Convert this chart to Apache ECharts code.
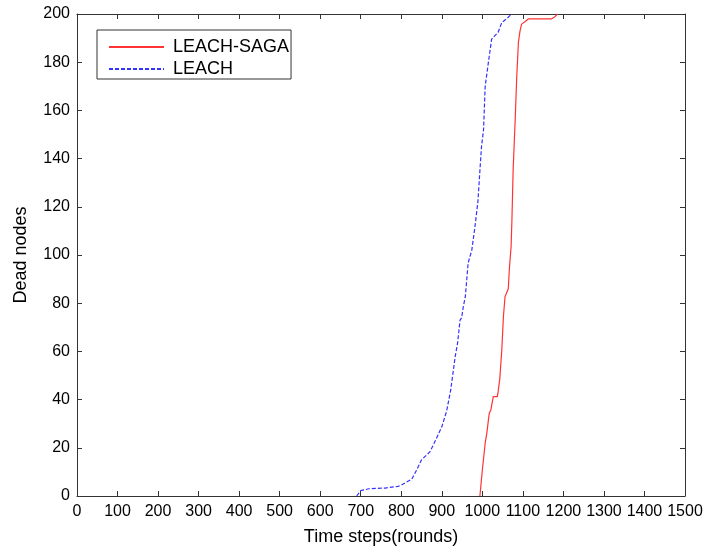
<!DOCTYPE html>
<html lang="en">
	<head>
		<meta charset="UTF-8">
		<title>Dead nodes</title>
		<script src="https://cdn.jsdelivr.net/npm/echarts@6/dist/echarts.min.js" type="text/javascript" charset="utf-8"></script>
		<style>
			html, body { margin: 0; padding: 0; background: #fff; }
			#chart { width: 708px; height: 548px; }
		</style>
	</head>
	<body>
		<div id="chart"></div>
	</body>
	<script type="text/javascript">
		// LEACH-SAGA (red solid)
		var sagaRounds = [994, 1000, 1007, 1011, 1017, 1021, 1027, 1037, 1039, 1043, 1048, 1052, 1056, 1060, 1064, 1067, 1071, 1073, 1076, 1081, 1085, 1089, 1093, 1097, 1105, 1114, 1171, 1180, 1185]
		var sagaDead = [0, 10.8, 21.9, 26, 34.3, 35.7, 41.2, 41.2, 43.3, 48.5, 60.6, 74.4, 82.7, 83.4, 86, 95, 103.5, 114.5, 135.3, 156, 174.4, 188.2, 193, 195.8, 196.8, 198, 198, 199, 200]
		// LEACH (blue dashed)
		var leachRounds = [690, 700, 720, 760, 792, 800, 826, 838, 850, 871, 887, 900, 912, 922, 933, 939, 945, 949, 953, 958, 965, 974, 982, 989, 994, 998, 1003, 1007, 1015, 1023, 1031, 1039, 1048, 1060, 1072]
		var leachDead = [0, 2.2, 3, 3.3, 4, 4.5, 7, 10.8, 15, 18.4, 24, 28.7, 35.3, 44, 57.8, 63.5, 73, 74, 78.5, 82.7, 96.7, 102, 112, 122, 135, 145, 152, 170, 180, 189.6, 191, 192.4, 196.5, 198, 200]

		function pairs(xs, ys) {
			var out = []
			for(var i = 0; i < xs.length; i++) {
				out.push([xs[i], ys[i]])
			}
			return out
		}

		// plain numbers, no thousands separator
		function plain(v) {
			return String(v)
		}

		var font = 'Liberation Sans, Arial, sans-serif'
		var axisColor = '#333'

		var myChart = echarts.init(document.getElementById('chart'), null, { renderer: 'canvas' })

		var option = {
			animation: false,
			backgroundColor: '#fff',
			grid: {
				left: 77,
				right: 23,
				top: 14,
				bottom: 52,
				outerBoundsMode: 'none'
			},
			legend: {
				orient: 'vertical',
				left: 97,
				top: 30,
				padding: [8, 2, 1, 11],
				itemGap: 4,
				itemWidth: 55,
				itemHeight: 14,
				borderColor: '#333',
				borderWidth: 1,
				backgroundColor: '#fff',
				itemStyle: { opacity: 0 },
				textStyle: {
					fontFamily: font,
					fontSize: 18,
					color: '#000',
					padding: [0, 0, 0, 4]
				},
				data: ['LEACH-SAGA', 'LEACH']
			},
			xAxis: [{
				type: 'value',
				min: 0,
				max: 1500,
				interval: 100,
				name: 'Time steps(rounds)',
				nameLocation: 'middle',
				nameGap: 32,
				nameTextStyle: { fontFamily: font, fontSize: 18, color: '#000' },
				axisLine: { onZero: false, lineStyle: { color: axisColor } },
				axisTick: { inside: true, length: 5, lineStyle: { color: axisColor } },
				axisLabel: { fontFamily: font, fontSize: 16, color: '#000', margin: 8, formatter: plain },
				splitLine: { show: false }
			}, {
				type: 'value',
				position: 'top',
				min: 0,
				max: 1500,
				interval: 100,
				axisLine: { onZero: false, lineStyle: { color: axisColor } },
				axisTick: { inside: true, length: 5, lineStyle: { color: axisColor } },
				axisLabel: { show: false },
				splitLine: { show: false }
			}],
			yAxis: [{
				type: 'value',
				min: 0,
				max: 200,
				interval: 20,
				name: 'Dead nodes',
				nameLocation: 'middle',
				nameGap: 47,
				nameTextStyle: { fontFamily: font, fontSize: 18, color: '#000' },
				axisLine: { show: true, onZero: false, lineStyle: { color: axisColor } },
				axisTick: { show: true, inside: true, length: 5, lineStyle: { color: axisColor } },
				axisLabel: { fontFamily: font, fontSize: 16, color: '#000', margin: 7, formatter: plain },
				splitLine: { show: false }
			}, {
				type: 'value',
				position: 'right',
				min: 0,
				max: 200,
				interval: 20,
				axisLine: { show: true, onZero: false, lineStyle: { color: axisColor } },
				axisTick: { show: true, inside: true, length: 5, lineStyle: { color: axisColor } },
				axisLabel: { show: false },
				splitLine: { show: false }
			}],
			series: [{
				name: 'LEACH-SAGA',
				type: 'line',
				symbol: 'none',
				color: '#ff3333',
				lineStyle: { width: 1.2, color: '#ff3333', type: 'solid' },
				data: pairs(sagaRounds, sagaDead)
			}, {
				name: 'LEACH',
				type: 'line',
				symbol: 'none',
				color: '#3333ff',
				lineStyle: { width: 1.2, color: '#3333ff', type: [4, 2] },
				data: pairs(leachRounds, leachDead)
			}]
		}

		myChart.setOption(option)
	</script>
</html>
